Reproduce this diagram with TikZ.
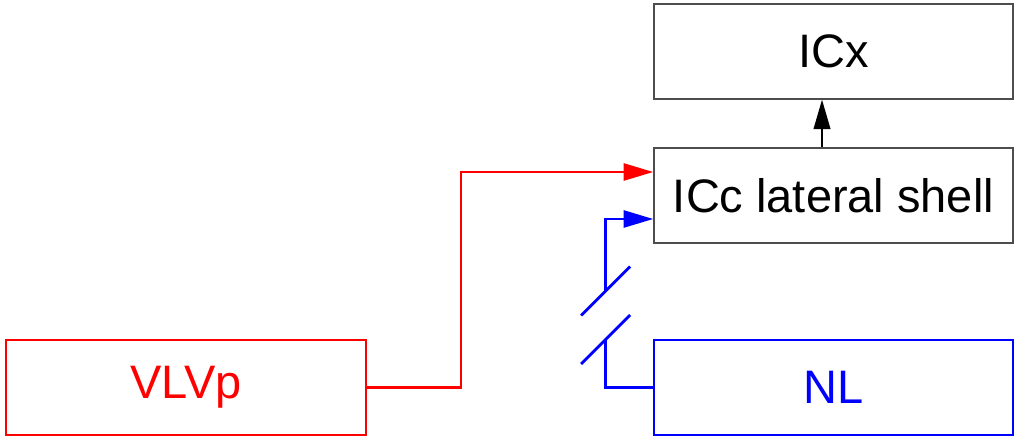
\documentclass[tikz,border=0pt]{standalone}
\usepackage{fontspec}
\setmainfont{Liberation Sans}
\usepackage{xcolor}
\usetikzlibrary{arrows.meta,calc}
\definecolor{boxgray}{HTML}{4D4D4D}
\definecolor{vlvpred}{HTML}{FF0000}
\definecolor{nlblue}{HTML}{0000FF}
\tikzset{
    areabox/.style={draw=#1, line width=1pt, minimum height=2.375cm,
        inner sep=0pt, font=\fontsize{33.4}{40}\selectfont},
    wire/.style={draw=#1, line width=2pt},
    tip/.style={-{Triangle[length=21pt,width=12pt]}},
}

\begin{document}
\begin{tikzpicture}[x=0.025cm, y=-0.025cm]

    \useasboundingbox (0,0) rectangle (1016,439);

    % ── Boxes ──────────────────────────────────────────────────────────────
    \node[areabox=boxgray, minimum width=8.975cm] (icx) at (833.5,51.5) {ICx};
    \node[areabox=boxgray, minimum width=8.975cm] (icc) at (833.5,195.5)
        {ICc lateral shell};
    \node[areabox=vlvpred, minimum width=9cm, text=vlvpred] (vlvp)
        at (186,387.5) {VLVp};
    \node[areabox=nlblue, minimum width=8.975cm, text=nlblue] (nl)
        at (833.5,387.5) {NL};

    % ── ICc -> ICx ─────────────────────────────────────────────────────────
    \coordinate (upfoot) at ($(icc.north)+(-11.5,0)$);
    \draw[wire=black, line width=1pt, tip] (upfoot) -- (upfoot |- icx.south);

    % ── VLVp -> ICc ────────────────────────────────────────────────────────
    \coordinate (redbend) at (461,172);
    \draw[wire=vlvpred, tip] (vlvp.east) -| (redbend) -- (redbend -| icc.west);

    % ── NL -> ICc (broken) ─────────────────────────────────────────────────
    \coordinate (brklow) at (605.5,339.5);
    \coordinate (brkup) at (605.5,291);
    \draw[wire=nlblue] (nl.west) -| (brklow);
    \draw[wire=nlblue, tip] (brkup) |- ($(icc.west)+(0,23.5)$);
    \draw[wire=nlblue] ($(brklow)+(-24.5,24.5)$) -- ($(brklow)+(24.5,-24.5)$);
    \draw[wire=nlblue] ($(brkup)+(-24.5,24.5)$) -- ($(brkup)+(24.5,-24.5)$);

\end{tikzpicture}
\end{document}
